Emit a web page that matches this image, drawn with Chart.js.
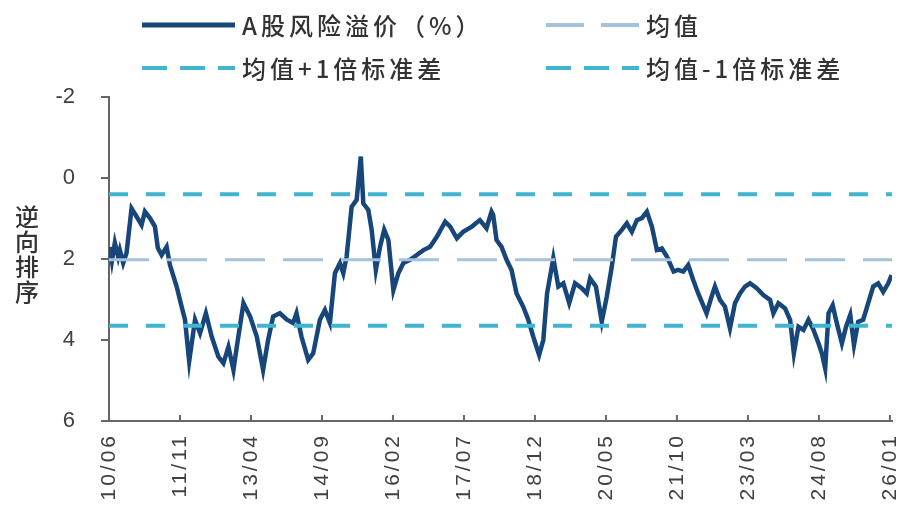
<!DOCTYPE html>
<html>
<head>
<meta charset="utf-8">
<script src="https://cdn.jsdelivr.net/npm/chart.js@4.4.1/dist/chart.umd.min.js"></script>
<style>
html, body { margin: 0; padding: 0; background: #fff; }
</style>
</head>
<body>
<canvas id="premiumChart" width="905" height="511"></canvas>
<script>
// months since 2010/06 and the premium value at each
const monthIdx = [0.2, 0.7, 1.4, 2.2, 2.6, 3.4, 4.2, 5.4, 6.6, 7.8, 8.6, 9.8, 11.0, 11.7, 12.6, 13.8, 14.6, 16.2, 17.4, 18.2,
  19.2, 20.6, 21.8, 23.2, 24.6, 26.2, 27.4, 28.6, 29.8, 30.6, 32.2, 33.8, 35.4, 36.9, 38.1, 39.3, 40.9, 42.6, 44.1, 44.9,
  46.1, 47.7, 48.9, 50.5, 51.7, 52.9, 54.1, 55.3, 56.1, 56.9, 58.1, 59.3, 60.3, 60.9, 62.1, 62.9, 63.9, 64.9, 65.9, 66.9,
  68.1, 69.3, 70.5, 72.1, 73.7, 75.3, 76.9, 78.5, 80.5, 81.7, 83.3, 84.8, 86.9, 88.8, 90.4, 91.6, 92.0, 92.8, 94.0, 95.2,
  96.4, 97.6, 99.2, 100.4, 101.6, 103.0, 104.0, 104.9, 106.4, 107.6, 108.8, 110.2, 111.6, 113.2, 114.4, 115.2, 116.6, 118.0, 119.2, 120.4,
  121.4, 122.8, 124.0, 125.2, 126.4, 127.6, 128.8, 130.0, 131.2, 132.4, 133.6, 135.2, 136.3, 137.5, 138.7, 139.9, 141.1, 143.1, 144.3, 145.1,
  146.3, 147.5, 148.7, 149.9, 151.1, 152.3, 153.5, 155.1, 156.7, 158.3, 159.1, 160.3, 161.9, 163.1, 164.0, 165.1, 166.3, 167.5, 168.7, 169.9,
  170.7, 171.5, 172.3, 173.3, 174.3, 175.5, 176.5, 177.5, 178.4, 179.4, 180.6, 181.8, 183.0, 184.2, 185.4, 186.6, 187.4];
const premium = [1.70, 2.05, 1.60, 1.95, 1.78, 2.10, 1.85, 0.75, 0.95, 1.16, 0.83, 0.99, 1.20, 1.73, 1.90, 1.70, 2.15, 2.68, 3.18, 3.50,
  4.53, 3.50, 3.83, 3.34, 3.92, 4.41, 4.57, 4.17, 4.74, 4.17, 3.09, 3.42, 3.92, 4.74, 4.00, 3.42, 3.34, 3.50, 3.58, 3.34,
  3.92, 4.49, 4.33, 3.50, 3.26, 3.58, 2.35, 2.10, 2.35, 1.94, 0.71, 0.54, -0.53, 0.63, 0.79, 1.28, 2.27, 1.70, 1.28, 1.53,
  2.77, 2.35, 2.10, 2.02, 1.90, 1.78, 1.70, 1.45, 1.08, 1.20, 1.49, 1.33, 1.20, 1.04, 1.24, 0.83, 0.91, 1.53, 1.70, 2.02,
  2.27, 2.85, 3.18, 3.50, 3.92, 4.37, 4.00, 2.85, 1.98, 2.68, 2.60, 3.09, 2.60, 2.72, 2.85, 2.48, 2.68, 3.55, 2.93, 2.19,
  1.45, 1.28, 1.12, 1.33, 1.04, 0.99, 0.83, 1.20, 1.78, 1.74, 1.94, 2.31, 2.27, 2.31, 2.15, 2.52, 2.85, 3.34, 2.93, 2.68,
  3.01, 3.18, 3.71, 3.09, 2.85, 2.68, 2.60, 2.72, 2.89, 3.01, 3.34, 3.09, 3.22, 3.50, 4.33, 3.67, 3.75, 3.50, 3.75, 4.08,
  4.33, 4.70, 3.34, 3.14, 3.59, 4.08, 3.67, 3.38, 4.12, 3.55, 3.50, 3.09, 2.68, 2.60, 2.81, 2.60, 2.40];

const tickLabels = ['10/06', '11/11', '13/04', '14/09', '16/02', '17/07', '18/12', '20/05', '21/10', '23/03', '24/08', '26/01'];
const tickStep = 17; // months between labels

const meanLevel = 2.02;
const upperLevel = 0.40; // 均值+1倍标准差 (axis is reversed)
const lowerLevel = 3.65;
const seriesNames = ['A股风险溢价（%）', '均值', '均值+1倍标准差', '均值-1倍标准差'];
const yTitle = ['逆', '向', '排', '序'];

const xMax = 187.5;
const fontFamily = 'Arial, "Liberation Sans", "Noto Sans CJK SC", sans-serif';

const levelLine = v => [{ x: 0, y: v }, { x: xMax, y: v }];

const legendDashes = [[], [38, 17], [25, 13], [25, 13]];

// legend in two columns, stacked y title, spaced x labels, short inner x ticks
const extras = {
  id: 'extras',
  afterDraw(chart) {
    const ctx = chart.ctx;
    ctx.save();
    ctx.fillStyle = '#333';
    ctx.textBaseline = 'middle';
    const slots = [[142, 25], [546, 25], [142, 68], [546, 68]];
    chart.data.datasets.forEach((ds, i) => {
      const [x, y] = slots[i];
      ctx.strokeStyle = ds.borderColor;
      ctx.lineWidth = i === 0 ? 5 : 4;
      ctx.setLineDash(legendDashes[i]);
      ctx.beginPath();
      ctx.moveTo(x, y);
      ctx.lineTo(x + 93, y);
      ctx.stroke();
      ctx.setLineDash([]);
      ctx.font = '500 24px "Noto Sans CJK SC", sans-serif';
      ctx.letterSpacing = '4px';
      ctx.fillText(ds.label, x + 100, y + 1);
    });

    ctx.letterSpacing = '0px';
    ctx.font = '500 24px "Noto Sans CJK SC", sans-serif';
    ctx.textAlign = 'center';
    yTitle.forEach((ch, i) => ctx.fillText(ch, 27, 217 + i * 25));

    const xs = chart.scales.x;
    const bottom = chart.chartArea.bottom;

    // rotated x labels
    ctx.font = '21px ' + fontFamily;
    ctx.fillStyle = '#404040';
    ctx.letterSpacing = '3px';
    ctx.textAlign = 'right';
    tickLabels.forEach((l, i) => {
      const px = xs.getPixelForValue(i * tickStep);
      ctx.save();
      ctx.translate(px, bottom + 12);
      ctx.rotate(-Math.PI / 2);
      ctx.fillText(l, 0, 0);
      ctx.restore();
    });

    // x ticks point up into the plot
    ctx.strokeStyle = '#666';
    ctx.lineWidth = 2;
    tickLabels.forEach((l, i) => {
      const px = xs.getPixelForValue(i * tickStep);
      ctx.beginPath();
      ctx.moveTo(px, bottom);
      ctx.lineTo(px, bottom - 6);
      ctx.stroke();
    });
    ctx.restore();
  }
};

const ctx = document.getElementById('premiumChart').getContext('2d');

const premiumChart = new Chart(ctx, {
  type: 'line',
  data: {
    datasets: [
      {
        label: seriesNames[0],
        data: monthIdx.map((m, i) => ({ x: m, y: premium[i] })),
        borderColor: '#17467a',
        borderWidth: 4.5,
        pointRadius: 0,
        tension: 0,
        order: 4
      },
      {
        label: seriesNames[1],
        data: levelLine(meanLevel),
        borderColor: '#a4c2dc',
        borderWidth: 3,
        borderDash: [40, 18],
        pointRadius: 0,
        order: 1
      },
      {
        label: seriesNames[2],
        data: levelLine(upperLevel),
        borderColor: '#40b5cf',
        borderWidth: 4,
        borderDash: [19, 18],
        pointRadius: 0,
        order: 2
      },
      {
        label: seriesNames[3],
        data: levelLine(lowerLevel),
        borderColor: '#40b5cf',
        borderWidth: 4,
        borderDash: [19, 18],
        pointRadius: 0,
        order: 3
      }
    ]
  },
  options: {
    responsive: false,
    animation: false,
    layout: { padding: { top: 97, right: 13, left: 0, bottom: 0 } },
    scales: {
      x: {
        type: 'linear',
        min: 0,
        max: xMax,
        afterBuildTicks: scale => {
          scale.ticks = tickLabels.map((l, i) => ({ value: i * tickStep }));
        },
        afterFit: scale => {
          scale.height = 90;
          scale.paddingLeft = 0;
          scale.paddingRight = 0;
        },
        ticks: { display: false },
        grid: { drawOnChartArea: false, drawTicks: false },
        border: { display: true, color: '#666', width: 2 }
      },
      y: {
        reverse: true,
        min: -2,
        max: 6,
        afterFit: scale => {
          scale.width = 109;
          scale.paddingTop = 0;
          scale.paddingBottom = 0;
        },
        ticks: {
          stepSize: 2,
          padding: 26,
          color: '#404040',
          font: { size: 22, family: fontFamily }
        },
        grid: { drawOnChartArea: false, drawTicks: true, tickLength: 8, color: '#666', lineWidth: 2 },
        border: { display: true, color: '#666', width: 2 }
      }
    },
    plugins: {
      legend: { display: false },
      tooltip: { enabled: false }
    }
  },
  plugins: [extras]
});
</script>
</body>
</html>
